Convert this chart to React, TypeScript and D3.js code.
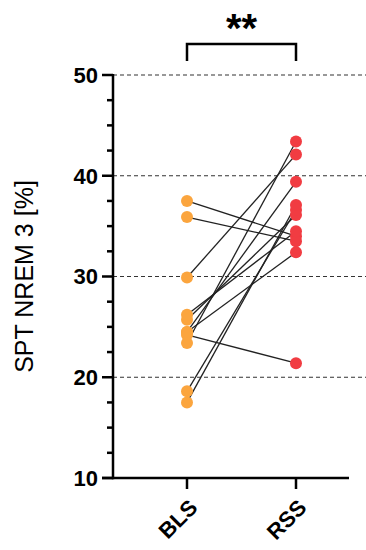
import React from "react";
import * as d3 from "d3";

const groups = ["BLS", "RSS"];
const blsValues = [37.5, 35.9, 29.9, 26.2, 25.7, 24.5, 24.5, 24.2, 23.4, 18.6, 17.5];
const rssValues = [34.0, 33.5, 42.1, 34.5, 36.1, 39.4, 32.4, 21.4, 43.4, 36.6, 37.1];
const yTicks = [10, 20, 30, 40, 50];
const yTitle = "SPT NREM 3 [%]";
const sigLabel = "**";

const width = 366;
const height = 550;
const font = "'Liberation Sans', Arial, sans-serif";

const App = () => {
  const yScale = d3.scaleLinear().domain([10, 50]).range([478, 75]);
  const xScale = d3.scalePoint().domain(groups).range([187, 296]);
  const minor = d3.range(10, 50, 2.5).filter((v) => !yTicks.includes(v));
  const x0 = xScale("BLS");
  const x1 = xScale("RSS");
  const axisX = 113;

  return (
    <svg
      width={width}
      height={height}
      style={{ position: "absolute", left: 0, top: 0, background: "#fff" }}
      fontFamily={font}>
      {/* grid */}
      {yTicks.slice(1).map((t) => (
        <line
          key={t}
          x1={axisX}
          x2={width}
          y1={yScale(t)}
          y2={yScale(t)}
          stroke="#333"
          strokeWidth={1.2}
          strokeDasharray="4,3"
        />
      ))}
      {/* paired lines */}
      {blsValues.map((v, i) => (
        <line
          key={i}
          x1={x0}
          y1={yScale(v)}
          x2={x1}
          y2={yScale(rssValues[i])}
          stroke="#222"
          strokeWidth={1.3}
        />
      ))}
      {blsValues.map((v, i) => (
        <circle key={"b" + i} cx={x0} cy={yScale(v)} r={6} fill="#FBA53E" />
      ))}
      {rssValues.map((v, i) => (
        <circle key={"r" + i} cx={x1} cy={yScale(v)} r={6} fill="#F13C42" />
      ))}
      {/* y axis */}
      <line x1={axisX} x2={axisX} y1={yScale(50) - 1} y2={yScale(10) + 1.25} stroke="#000" strokeWidth={2.5} />
      {yTicks.map((t) => (
        <g key={t}>
          <line x1={axisX - 11} x2={axisX} y1={yScale(t)} y2={yScale(t)} stroke="#000" strokeWidth={2.5} />
          <text
            x={axisX - 15}
            y={yScale(t)}
            dy="0.36em"
            textAnchor="end"
            fontSize={22}
            fontWeight="bold">
            {t}
          </text>
        </g>
      ))}
      {minor.map((t) => (
        <line key={t} x1={axisX - 6} x2={axisX} y1={yScale(t)} y2={yScale(t)} stroke="#000" strokeWidth={2.5} />
      ))}
      {/* x axis */}
      <line x1={axisX - 11} x2={349} y1={yScale(10)} y2={yScale(10)} stroke="#000" strokeWidth={2.5} />
      {groups.map((g) => (
        <g key={g}>
          <line x1={xScale(g)} x2={xScale(g)} y1={yScale(10)} y2={yScale(10) + 11} stroke="#000" strokeWidth={2.5} />
          <text
            transform={`translate(${xScale(g) + 1},${yScale(10) + 20}) rotate(-45)`}
            textAnchor="end"
            dy="0.7em"
            fontSize={22}
            fontWeight="bold">
            {g}
          </text>
        </g>
      ))}
      <text
        transform={`translate(33,${(yScale(10) + yScale(50)) / 2}) rotate(-90)`}
        textAnchor="middle"
        fontSize={25}>
        {yTitle}
      </text>
      {/* significance bracket */}
      <path
        d={`M${x0},61V44H${x1}V61`}
        fill="none"
        stroke="#000"
        strokeWidth={2.5}
      />
      <text x={(x0 + x1) / 2} y={42} textAnchor="middle" fontSize={40} fontWeight="bold">
        {sigLabel}
      </text>
    </svg>
  );
};

export default App;
